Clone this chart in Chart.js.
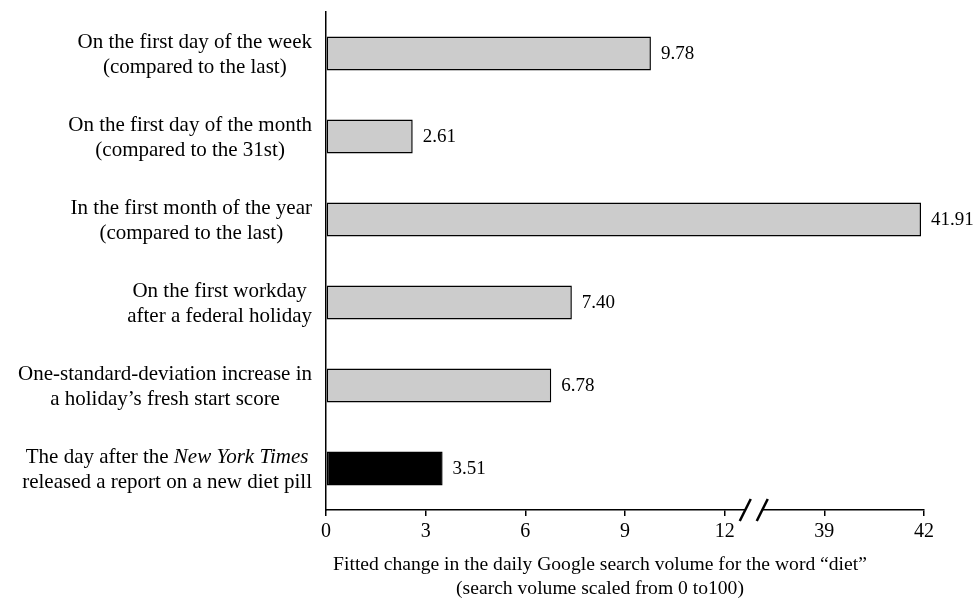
<!DOCTYPE html>
<html>
<head>
<meta charset="utf-8">
<script src="https://cdn.jsdelivr.net/npm/chart.js@4/dist/chart.umd.min.js"></script>
<style>
  html, body { margin: 0; padding: 0; background: #ffffff; }
  #wrap { width: 979px; height: 599px; position: relative; }
</style>
</head>
<body>
<div id="wrap"><canvas id="c" width="979" height="599"></canvas></div>
<script>
// ---- data ----
const categories = [
  ["On the first day of the week", "(compared to the last)"],
  ["On the first day of the month", "(compared to the 31st)"],
  ["In the first month of the year", "(compared to the last)"],
  ["On the first workday", "after a federal holiday"],
  ["One-standard-deviation increase in", "a holiday\u2019s fresh start score"],
  ["The day after the _New York Times_", "released a report on a new diet pill"]
];
const values = [9.78, 2.61, 41.91, 7.40, 6.78, 3.51];
const tickLabels = [0, 3, 6, 9, 12, 39, 42];
const axisTitle = [
  "Fitted change in the daily Google search volume for the word \u201cdiet\u201d",
  "(search volume scaled from 0 to100)"
];
const highlightIndex = 5;

// ---- broken axis mapping: each tick slot is 3 axis units ----
const SLOT = 3;
function toAxis(v) {
  for (let i = 1; i < tickLabels.length; i++) {
    if (v <= tickLabels[i] || i === tickLabels.length - 1) {
      return (i - 1) * SLOT + (v - tickLabels[i - 1]) / (tickLabels[i] - tickLabels[i - 1]) * SLOT;
    }
  }
  return v;
}

const FONT = "'Liberation Serif', 'Times New Roman', serif";

const labelsPlugin = {
  id: 'customText',
  afterDraw(chart) {
    const ctx = chart.ctx;
    const yScale = chart.scales.y;
    const xScale = chart.scales.x;
    const area = chart.chartArea;
    ctx.save();
    ctx.fillStyle = '#000';
    ctx.textBaseline = 'middle';

    // category labels (centered block, right edge near axis)
    const rightEdge = area.left - 14;
    const lineH = 25;
    categories.forEach((lines, i) => {
      const yc = yScale.getPixelForValue(i) + 1;
      const parsed = lines.map(line => {
        const parts = line.split('_');
        return parts.map((t, k) => ({ t, italic: k % 2 === 1 })).filter(s => s.t.length);
      });
      const widths = parsed.map(segs => segs.reduce((w, s) => {
        ctx.font = (s.italic ? 'italic ' : '') + '21px ' + FONT;
        return w + ctx.measureText(s.t).width;
      }, 0));
      const maxW = Math.max(...widths);
      const cx = rightEdge - maxW / 2;
      const n = parsed.length;
      parsed.forEach((segs, li) => {
        const y = yc + (li - (n - 1) / 2) * lineH;
        let x = cx - widths[li] / 2;
        ctx.textAlign = 'left';
        segs.forEach(s => {
          ctx.font = (s.italic ? 'italic ' : '') + '21px ' + FONT;
          ctx.fillText(s.t, x, y);
          x += ctx.measureText(s.t).width;
        });
      });
    });

    // value labels
    const meta = chart.getDatasetMeta(0);
    ctx.font = '19px ' + FONT;
    ctx.textAlign = 'left';
    meta.data.forEach((bar, i) => {
      ctx.fillText(values[i].toFixed(2), bar.x + 10, bar.y + 1);
    });

    // axis break marks
    const by = xScale.top;
    const bx = xScale.getPixelForValue(12.875);
    ctx.fillStyle = '#fff';
    ctx.fillRect(bx - 8, by - 3, 16, 6);
    ctx.strokeStyle = '#000';
    ctx.lineWidth = 2.5;
    [-8.5, 8.5].forEach(off => {
      ctx.beginPath();
      ctx.moveTo(bx + off - 5.5, by + 11);
      ctx.lineTo(bx + off + 5.5, by - 11);
      ctx.stroke();
    });

    // axis title
    ctx.fillStyle = '#000';
    ctx.font = '19.6px ' + FONT;
    ctx.textAlign = 'center';
    const tx = (area.left + area.right) / 2 - 25;
    ctx.fillText(axisTitle[0], tx, 565);
    ctx.fillText(axisTitle[1], tx, 589);
    ctx.restore();
  }
};

new Chart(document.getElementById('c'), {
  type: 'bar',
  data: {
    labels: categories.map((c, i) => String(i)),
    datasets: [{
      data: values.map(toAxis),
      backgroundColor: values.map((v, i) => i === highlightIndex ? '#000000' : '#cccccc'),
      borderColor: '#000000',
      borderWidth: 1.5,
      borderSkipped: false,
      barPercentage: 0.41,
      categoryPercentage: 1.0
    }]
  },
  options: {
    indexAxis: 'y',
    responsive: false,
    animation: false,
    devicePixelRatio: 1,
    layout: { padding: { top: 12, right: 55, left: 0, bottom: 0 } },
    plugins: { legend: { display: false }, tooltip: { enabled: false } },
    scales: {
      x: {
        type: 'linear',
        min: 0,
        max: (tickLabels.length - 1) * SLOT,
        afterFit(scale) { scale.height = 89; },
        afterBuildTicks(scale) {
          scale.ticks = tickLabels.map((t, i) => ({ value: i * SLOT }));
        },
        ticks: {
          callback: (value) => String(tickLabels[Math.round(value / SLOT)]),
          color: '#000',
          font: { family: FONT, size: 20 },
          padding: 4,
          maxRotation: 0,
          autoSkip: false
        },
        grid: {
          drawOnChartArea: false,
          drawTicks: true,
          tickLength: 6,
          color: '#000',
          lineWidth: 1.5
        },
        border: { display: true, color: '#000', width: 1.5 }
      },
      y: {
        type: 'category',
        afterFit(scale) { scale.width = 326; },
        ticks: { display: false },
        grid: { display: false, drawTicks: false },
        border: { display: true, color: '#000', width: 1.5 }
      }
    }
  },
  plugins: [labelsPlugin]
});
</script>
</body>
</html>
